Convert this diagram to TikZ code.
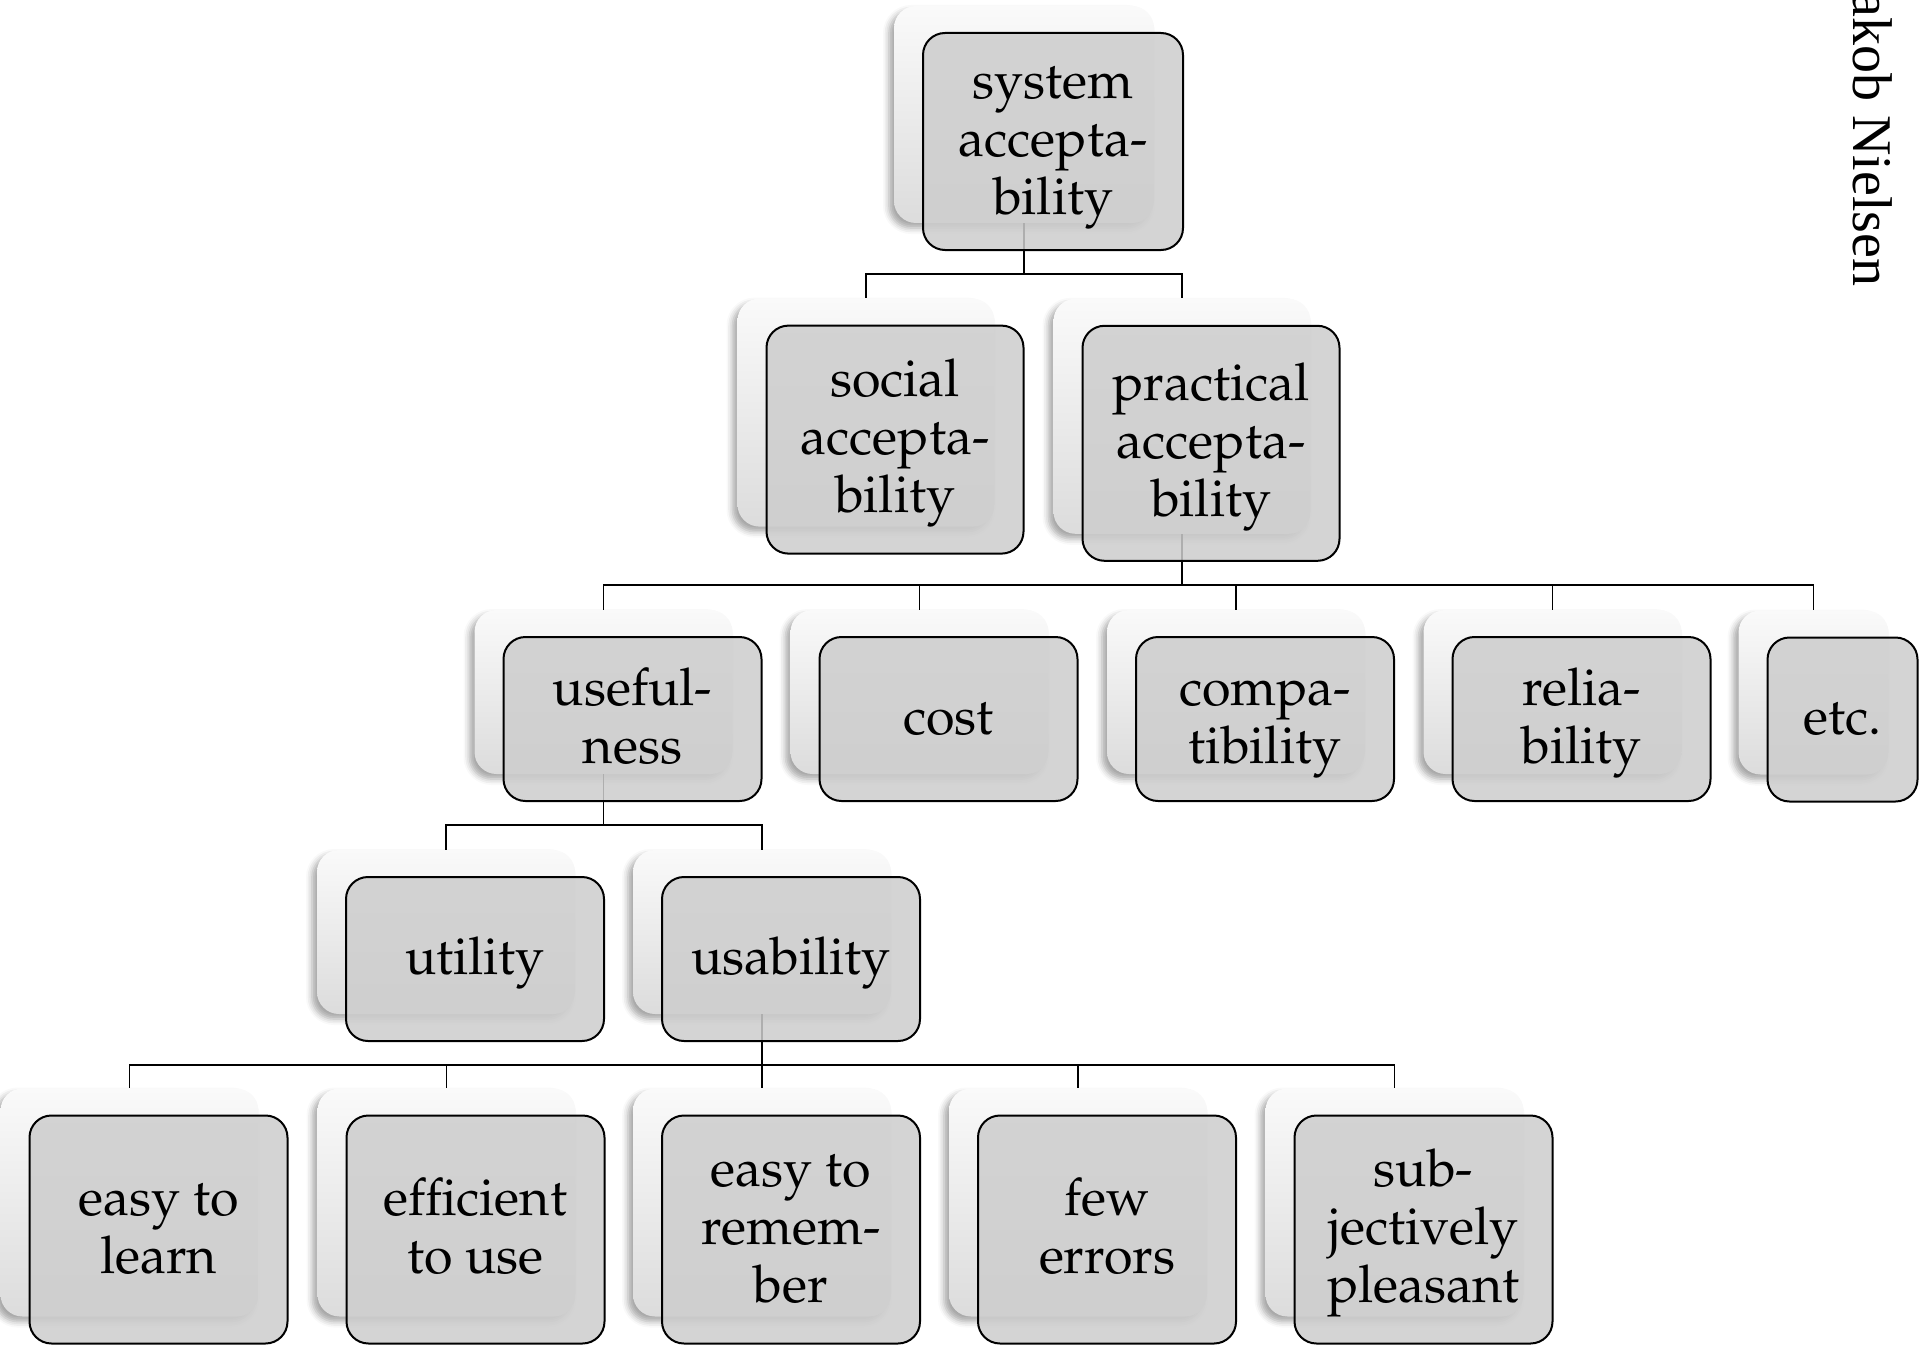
\documentclass[tikz,border=0pt]{standalone}
\usepackage[T1,TU]{fontenc}
\usepackage{fontspec}
\newfontfamily\authorfont{Liberation Serif}
\usetikzlibrary{shadows.blur}

% Palatino for the card labels
\newcommand\cardfont{\fontencoding{T1}\fontfamily{ppl}\fontsize{26}{29}\selectfont}
% card label: lines of equal height, nudged slightly below the centre
\newcommand\cardtext[1]{\raisebox{-1.8pt}[\height][\depth]{\begin{tabular}{@{}c@{}}#1\end{tabular}}}

\definecolor{cardgray}{RGB}{205,205,205}
\definecolor{platetop}{RGB}{250,250,250}
\definecolor{platebottom}{RGB}{220,220,220}

\tikzset{
  backbox/.style={rounded corners=11pt, draw=none, inner sep=0pt,
    top color=platetop, bottom color=platebottom,
    blur shadow={shadow xshift=-2.5pt, shadow yshift=-2.5pt,
      shadow blur radius=3pt, shadow opacity=35}},
  frontbox/.style={rounded corners=11pt, draw=black, line width=1pt,
    fill=cardgray, fill opacity=0.85, text opacity=1, inner sep=0pt,
    font=\cardfont},
  link/.style={draw=black, line width=0.8pt},
}

\begin{document}
\begin{tikzpicture}[x=0.5pt,y=-0.5pt]
\useasboundingbox (0,0) rectangle (1920,1348);

% centres of the cards
\coordinate (c-sys)   at (1053,141.5);
\coordinate (c-soc)   at (895,439.6);
\coordinate (c-prac)  at (1211,443.3);
\coordinate (c-use)   at (632.5,719);
\coordinate (c-cost)  at (948.5,719);
\coordinate (c-comp)  at (1265,719);
\coordinate (c-rel)   at (1581.5,719);
\coordinate (c-etc)   at (1842.5,719.5);
\coordinate (c-util)  at (475,959);
\coordinate (c-usab)  at (791,959);
\coordinate (c-learn) at (158.5,1229.5);
\coordinate (c-eff)   at (475.5,1229.5);
\coordinate (c-rem)   at (791,1229.5);
\coordinate (c-few)   at (1107,1229.5);
\coordinate (c-subj)  at (1423.5,1229.5);

% horizontal bus levels
\coordinate (bus1) at (0,274);
\coordinate (bus2) at (0,585);
\coordinate (bus3) at (0,825);
\coordinate (bus4) at (0,1065);

% back plates
\foreach \n/\w/\h in {sys/130/108.5, soc/128.5/114, prac/128.5/117.5,
    use/129/82, cost/129/82, comp/129/82, rel/129/82, etc/75/82,
    util/129/82, usab/129/82,
    learn/129/114, eff/129/114, rem/129/114, few/129/114, subj/129/114}
  \node[backbox, minimum width=\w pt, minimum height=\h pt] (\n-b)
    at ([shift={(-29,-27)}]c-\n) {};

% connectors
\foreach \c in {soc,prac}
  \draw[link] (sys-b.south) -- (sys-b.south |- bus1) -| (\c-b.north);
\foreach \c in {use,cost,comp,rel,etc}
  \draw[link] (prac-b.south) -- (prac-b.south |- bus2) -| (\c-b.north);
\foreach \c in {util,usab}
  \draw[link] (use-b.south) -- (use-b.south |- bus3) -| (\c-b.north);
\foreach \c in {learn,eff,rem,few,subj}
  \draw[link] (usab-b.south) -- (usab-b.south |- bus4) -| (\c-b.north);

% front cards
\node[frontbox, minimum width=130pt, minimum height=108.5pt] (sys) at (c-sys) {\cardtext{system\\accepta-\\bility}};
\node[frontbox, minimum width=128.5pt, minimum height=114pt] (soc) at (c-soc) {\cardtext{social\\accepta-\\bility}};
\node[frontbox, minimum width=128.5pt, minimum height=117.5pt] (prac) at (c-prac) {\cardtext{practical\\accepta-\\bility}};
\node[frontbox, minimum width=129pt, minimum height=82pt] (use) at (c-use) {\cardtext{useful-\\ness}};
\node[frontbox, minimum width=129pt, minimum height=82pt] (cost) at (c-cost) {\cardtext{cost}};
\node[frontbox, minimum width=129pt, minimum height=82pt] (comp) at (c-comp) {\cardtext{compa-\\tibility}};
\node[frontbox, minimum width=129pt, minimum height=82pt] (rel) at (c-rel) {\cardtext{relia-\\bility}};
\node[frontbox, minimum width=75pt, minimum height=82pt] (etc) at (c-etc) {\cardtext{etc.}};
\node[frontbox, minimum width=129pt, minimum height=82pt] (util) at (c-util) {\cardtext{utility}};
\node[frontbox, minimum width=129pt, minimum height=82pt] (usab) at (c-usab) {\cardtext{usability}};
\node[frontbox, minimum width=129pt, minimum height=114pt] (learn) at (c-learn) {\cardtext{easy to\\learn}};
\node[frontbox, minimum width=129pt, minimum height=114pt] (eff) at (c-eff) {\cardtext{efficient\\to use}};
\node[frontbox, minimum width=129pt, minimum height=114pt] (rem) at (c-rem) {\cardtext{easy to\\remem-\\ber}};
\node[frontbox, minimum width=129pt, minimum height=114pt] (few) at (c-few) {\cardtext{few\\errors}};
\node[frontbox, minimum width=129pt, minimum height=114pt] (subj) at (c-subj) {\cardtext{sub-\\jectively\\pleasant}};

% author credit along the right edge
\node[rotate=-90, anchor=base east, inner sep=0pt,
  font=\authorfont\fontsize{28}{32}\selectfont] (author) at (1853,287) {Jakob Nielsen};
\end{tikzpicture}
\end{document}
